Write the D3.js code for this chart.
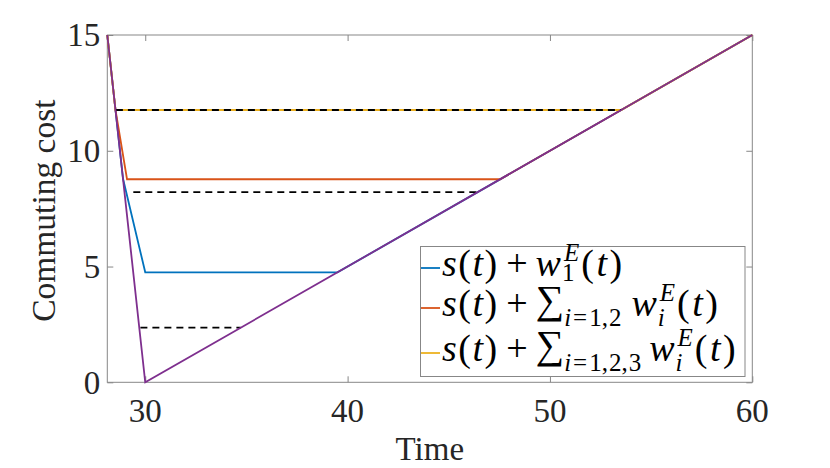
<!DOCTYPE html>
<html>
<head>
<meta charset="utf-8">
<script src="https://cdn.jsdelivr.net/npm/d3@7"></script>
<style>
  body { margin: 0; background: #fff; }
  svg { display: block; }
</style>
</head>
<body>
<div id="chart"></div>
<script>
// axis ranges and ticks
const xDomain = [28.125, 60];
const yDomain = [0, 15];
const xTicks = [30, 40, 50, 60];
const yTicks = [0, 5, 10, 15];

// series (t, cost)
const sTime = [28.125, 30, 60];
const sCost = [15, 0, 15];

const w1Time = [28.125, 28.9, 30, 39.5, 60];
const w1Cost = [15, 8.8, 4.75, 4.75, 15];

const w12Time = [28.125, 28.53, 29.1, 47.54, 60];
const w12Cost = [15, 11.76, 8.77, 8.77, 15];

const w123Time = [28.125, 28.53, 53.52, 60];
const w123Cost = [15, 11.76, 11.76, 15];

// dashed reference levels
const dashStart = [28.55, 29.41, 29.76];
const dashEnd = [53.52, 46.42, 34.72];
const dashLevel = [11.76, 8.21, 2.36];

const W = 830, H = 468;
const margin = { left: 107.3, top: 35, right: 830 - 752.3, bottom: 468 - 382.3 };
const width = W - margin.left - margin.right;
const height = H - margin.top - margin.bottom;

const axisColor = '#878787';
const textColor = '#262626';
const serif = '"Liberation Serif", "Times New Roman", serif';

const svg = d3.select('#chart').append('svg')
  .attr('width', W)
  .attr('height', H);

const vis = svg.append('g')
  .attr('transform', 'translate(' + margin.left + ',' + margin.top + ')');

const xScale = d3.scaleLinear().domain(xDomain).range([0, width]);
const yScale = d3.scaleLinear().domain(yDomain).range([height, 0]);

function zip(ts, cs) {
  return ts.map((t, i) => ({ t: t, c: cs[i] }));
}

const line = d3.line()
  .x(d => xScale(d.t))
  .y(d => yScale(d.c));

// axes box with inward ticks on all sides
function styleAxis(g) {
  g.selectAll('.domain').remove();
  g.selectAll('.tick line').attr('stroke', axisColor);
  g.selectAll('.tick text').remove();
}
vis.append('g').attr('transform', 'translate(0,' + height + ')')
  .call(d3.axisBottom(xScale).tickValues(xTicks).tickSizeInner(-6).tickSizeOuter(0)).call(styleAxis);
vis.append('g')
  .call(d3.axisTop(xScale).tickValues(xTicks).tickSizeInner(-6).tickSizeOuter(0)).call(styleAxis);
vis.append('g')
  .call(d3.axisLeft(yScale).tickValues(yTicks).tickSizeInner(-6).tickSizeOuter(0)).call(styleAxis);
vis.append('g').attr('transform', 'translate(' + width + ',0)')
  .call(d3.axisRight(yScale).tickValues(yTicks).tickSizeInner(-6).tickSizeOuter(0)).call(styleAxis);

vis.append('rect')
  .attr('width', width)
  .attr('height', height)
  .attr('fill', 'none')
  .attr('stroke', axisColor)
  .attr('stroke-width', 1);

// tick labels
vis.selectAll('.xlab').data(xTicks).enter()
  .append('text')
  .attr('x', d => xScale(d))
  .attr('y', height + 39.5)
  .attr('text-anchor', 'middle')
  .style('font-family', serif)
  .style('font-size', '33px')
  .attr('fill', textColor)
  .text(d => d);

vis.selectAll('.ylab').data(yTicks).enter()
  .append('text')
  .attr('x', -7)
  .attr('y', d => yScale(d))
  .attr('dy', '0.34em')
  .attr('text-anchor', 'end')
  .style('font-family', serif)
  .style('font-size', '33px')
  .attr('fill', textColor)
  .text(d => d);

vis.append('text')
  .attr('x', width / 2)
  .attr('y', height + 78)
  .attr('text-anchor', 'middle')
  .style('font-family', serif)
  .style('font-size', '33px')
  .attr('fill', textColor)
  .text('Time');

svg.append('text')
  .attr('transform', 'translate(55,' + (margin.top + height / 2 + 2) + ') rotate(-90)')
  .attr('text-anchor', 'middle')
  .style('font-family', serif)
  .style('font-size', '33.5px')
  .attr('fill', textColor)
  .text('Commuting cost');

// lines
const series = [
  { data: zip(w1Time, w1Cost), color: '#0072BD' },
  { data: zip(w12Time, w12Cost), color: '#D95319' },
  { data: zip(w123Time, w123Cost), color: '#EDB120' }
];

series.forEach(s => {
  vis.append('path')
    .datum(s.data)
    .attr('fill', 'none')
    .attr('stroke', s.color)
    .attr('stroke-width', 1.8)
    .attr('d', line);
});

dashLevel.forEach((lv, i) => {
  vis.append('path')
    .datum([{ t: dashStart[i], c: lv }, { t: dashEnd[i], c: lv }])
    .attr('fill', 'none')
    .attr('stroke', '#000')
    .attr('stroke-width', 1.8)
    .attr('stroke-dasharray', '7,5')
    .attr('d', line);
});

vis.append('path')
  .datum(zip(sTime, sCost))
  .attr('fill', 'none')
  .attr('stroke', '#7E2F8E')
  .attr('stroke-width', 1.8)
  .attr('d', line);

// legend
const legend = svg.append('g');
legend.append('rect')
  .attr('x', 420.5)
  .attr('y', 246.5)
  .attr('width', 324.5)
  .attr('height', 130)
  .attr('fill', '#fff')
  .attr('stroke', axisColor)
  .attr('stroke-width', 1);

const F = 38, S = 25;

function piece(g, x, y, txt, size, italic) {
  const t = g.append('text')
    .attr('x', x)
    .attr('y', y)
    .style('font-family', serif)
    .style('font-size', size + 'px')
    .style('font-style', italic ? 'italic' : 'normal')
    .attr('fill', '#000')
    .text(txt);
  return t.node().getComputedTextLength();
}

// parts: {t, it} glyph, {gap} space, {sup, sub} stacked scripts, {sum} summation
function mathRow(g, x, y, parts) {
  let cx = x;
  parts.forEach(p => {
    if (p.gap) { cx += p.gap; return; }
    if (p.sup !== undefined) {
      const a = piece(g, cx + 3, y - 15, p.sup, S, true);
      const b = piece(g, cx + 1, y + p.subDy, p.sub, S, p.subIt);
      cx += Math.max(a + 3, b + 1) + 1;
      return;
    }
    if (p.sum) {
      cx += piece(g, cx, y - 3, '\u2211', 40, false);
      cx += piece(g, cx, y + 10, 'i', S, true) + 2;
      cx += piece(g, cx, y + 10, '=', S, false) + 2;
      p.sum.forEach((d, k) => {
        cx += piece(g, cx, y + 10, d, S, false);
        if (k < p.sum.length - 1) cx += piece(g, cx, y + 10, ',', S, false) + 1;
      });
      return;
    }
    cx += piece(g, cx, y, p.t, F, p.it);
  });
}

const head = [
  { t: 's', it: true }, { gap: 1.5 }, { t: '(' }, { gap: 1.5 }, { t: 't', it: true }, { gap: 1.5 }, { t: ')' },
  { gap: 9 }, { t: '+' }, { gap: 8 }
];
const tail = [{ gap: 1 }, { t: '(' }, { gap: 2.5 }, { t: 't', it: true }, { gap: 2.5 }, { t: ')' }];

const rows = [
  { y: 276, color: '#0072BD', parts: head.concat([{ t: 'w', it: true }, { sup: 'E', sub: '1', subDy: 5, subIt: false }], tail) },
  { y: 316, color: '#D95319', parts: head.concat([{ sum: ['1', '2'] }, { gap: 10 }, { t: 'w', it: true }, { sup: 'E', sub: 'i', subDy: 10, subIt: true }], tail) },
  { y: 361, color: '#EDB120', parts: head.concat([{ sum: ['1', '2', '3'] }, { gap: 8 }, { t: 'w', it: true }, { sup: 'E', sub: 'i', subDy: 10, subIt: true }], tail) }
];

rows.forEach(r => {
  legend.append('line')
    .attr('x1', 421).attr('x2', 440)
    .attr('y1', r.y - 8).attr('y2', r.y - 8)
    .attr('stroke', r.color)
    .attr('stroke-width', 1.8);
  mathRow(legend, 442, r.y, r.parts);
});
</script>
</body>
</html>
